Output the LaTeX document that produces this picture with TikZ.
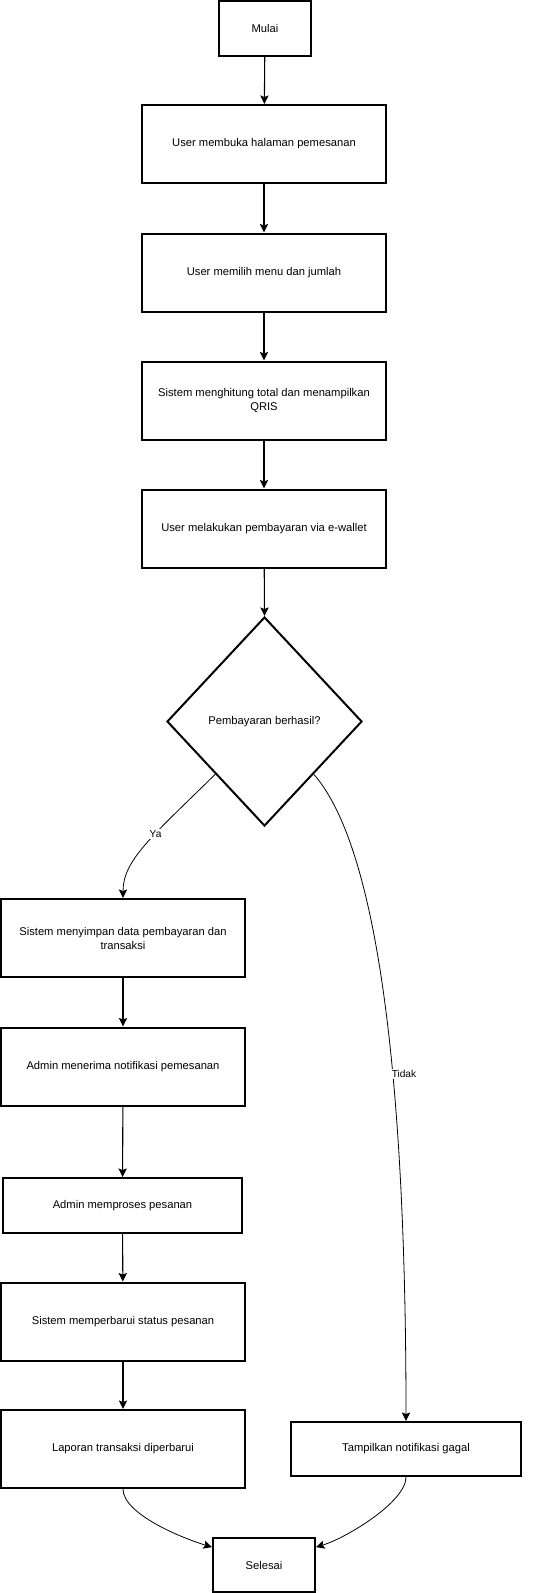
\documentclass[tikz,border=0pt]{standalone}
\usepackage{fontspec}
\setmainfont{Liberation Sans}
\usetikzlibrary{shapes.geometric,arrows.meta}
\begin{document}
\begin{tikzpicture}[x=0.75pt,y=-0.75pt,
  font=\fontsize{8.4pt}{10.5pt}\selectfont,
  box/.style={draw=black,line width=1.5pt,rectangle,align=center,inner sep=0pt,
    minimum width=183pt,minimum height=58.5pt},
  smallbox/.style={box,minimum height=41.25pt},
  decision/.style={draw=black,line width=1.5pt,diamond,align=center,inner sep=0pt,
    minimum width=146.25pt,minimum height=156.75pt},
  flow/.style={line width=0.8pt,-{Stealth[length=6.4pt,width=6.2pt,inset=1.2pt]}},
  branch/.style={line width=0.6pt,-{Stealth[length=6.4pt,width=6.2pt,inset=1.2pt]}},
  lbl/.style={fill=white,inner sep=1pt,font=\fontsize{7.6pt}{9pt}\selectfont}]
\useasboundingbox (0,0) rectangle (559,1593);

% main column
\node[smallbox,minimum width=69pt] (start) at (265,28.5) {Mulai};
\node[box] (open)   at (264,144)   {User membuka halaman pemesanan};
\node[box] (choose) at (264,272.5) {User memilih menu dan jumlah};
\node[box] (total)  at (264,400.5) {Sistem menghitung total dan menampilkan\\QRIS};
\node[box] (pay)    at (264,528.5) {User melakukan pembayaran via e-wallet};
\node[decision] (ok) at (264.5,721.5) {Pembayaran berhasil?};

% success branch
\node[box] (save)   at (123,938)    {Sistem menyimpan data pembayaran dan\\transaksi};
\node[box] (notify) at (123,1066.5) {Admin menerima notifikasi pemesanan};
\node[smallbox,minimum width=179.25pt] (proc) at (122.5,1205.5) {Admin memproses pesanan};
\node[box] (status) at (123,1321.5) {Sistem memperbarui status pesanan};
\node[box] (report) at (123,1449)   {Laporan transaksi diperbarui};

% failure branch
\node[smallbox,minimum width=172.5pt,minimum height=40.5pt] (fail) at (406,1449) {Tampilkan notifikasi gagal};

% end
\node[smallbox,minimum width=76.5pt,minimum height=40.5pt] (done) at (264,1565) {Selesai};

% connectors
\draw[flow] (start) -- (open);
\draw[flow] (open) -- (choose);
\draw[flow] (choose) -- (total);
\draw[flow] (total) -- (pay);
\draw[flow] (pay) -- (ok.north);
\draw[branch] (ok.south west) .. controls +(-63,62) and +(0,-38) .. node[lbl,pos=0.4] {Ya} (save.north);
\draw[branch] (ok.south east) .. controls +(59,67) and +(0,-372) .. node[lbl,pos=0.63,anchor=west,xshift=-2pt] {Tidak} (fail.north);
\draw[flow] (save) -- (notify);
\draw[flow] (notify) -- (proc);
\draw[flow] (proc) -- (status);
\draw[flow] (status) -- (report);
\draw[branch] (report.south) .. controls +(0,25) and +(-30,-9) .. (done.161);
\draw[branch] (fail.south) .. controls +(0,25) and +(30,-9) .. (done.19);
\end{tikzpicture}
\end{document}
